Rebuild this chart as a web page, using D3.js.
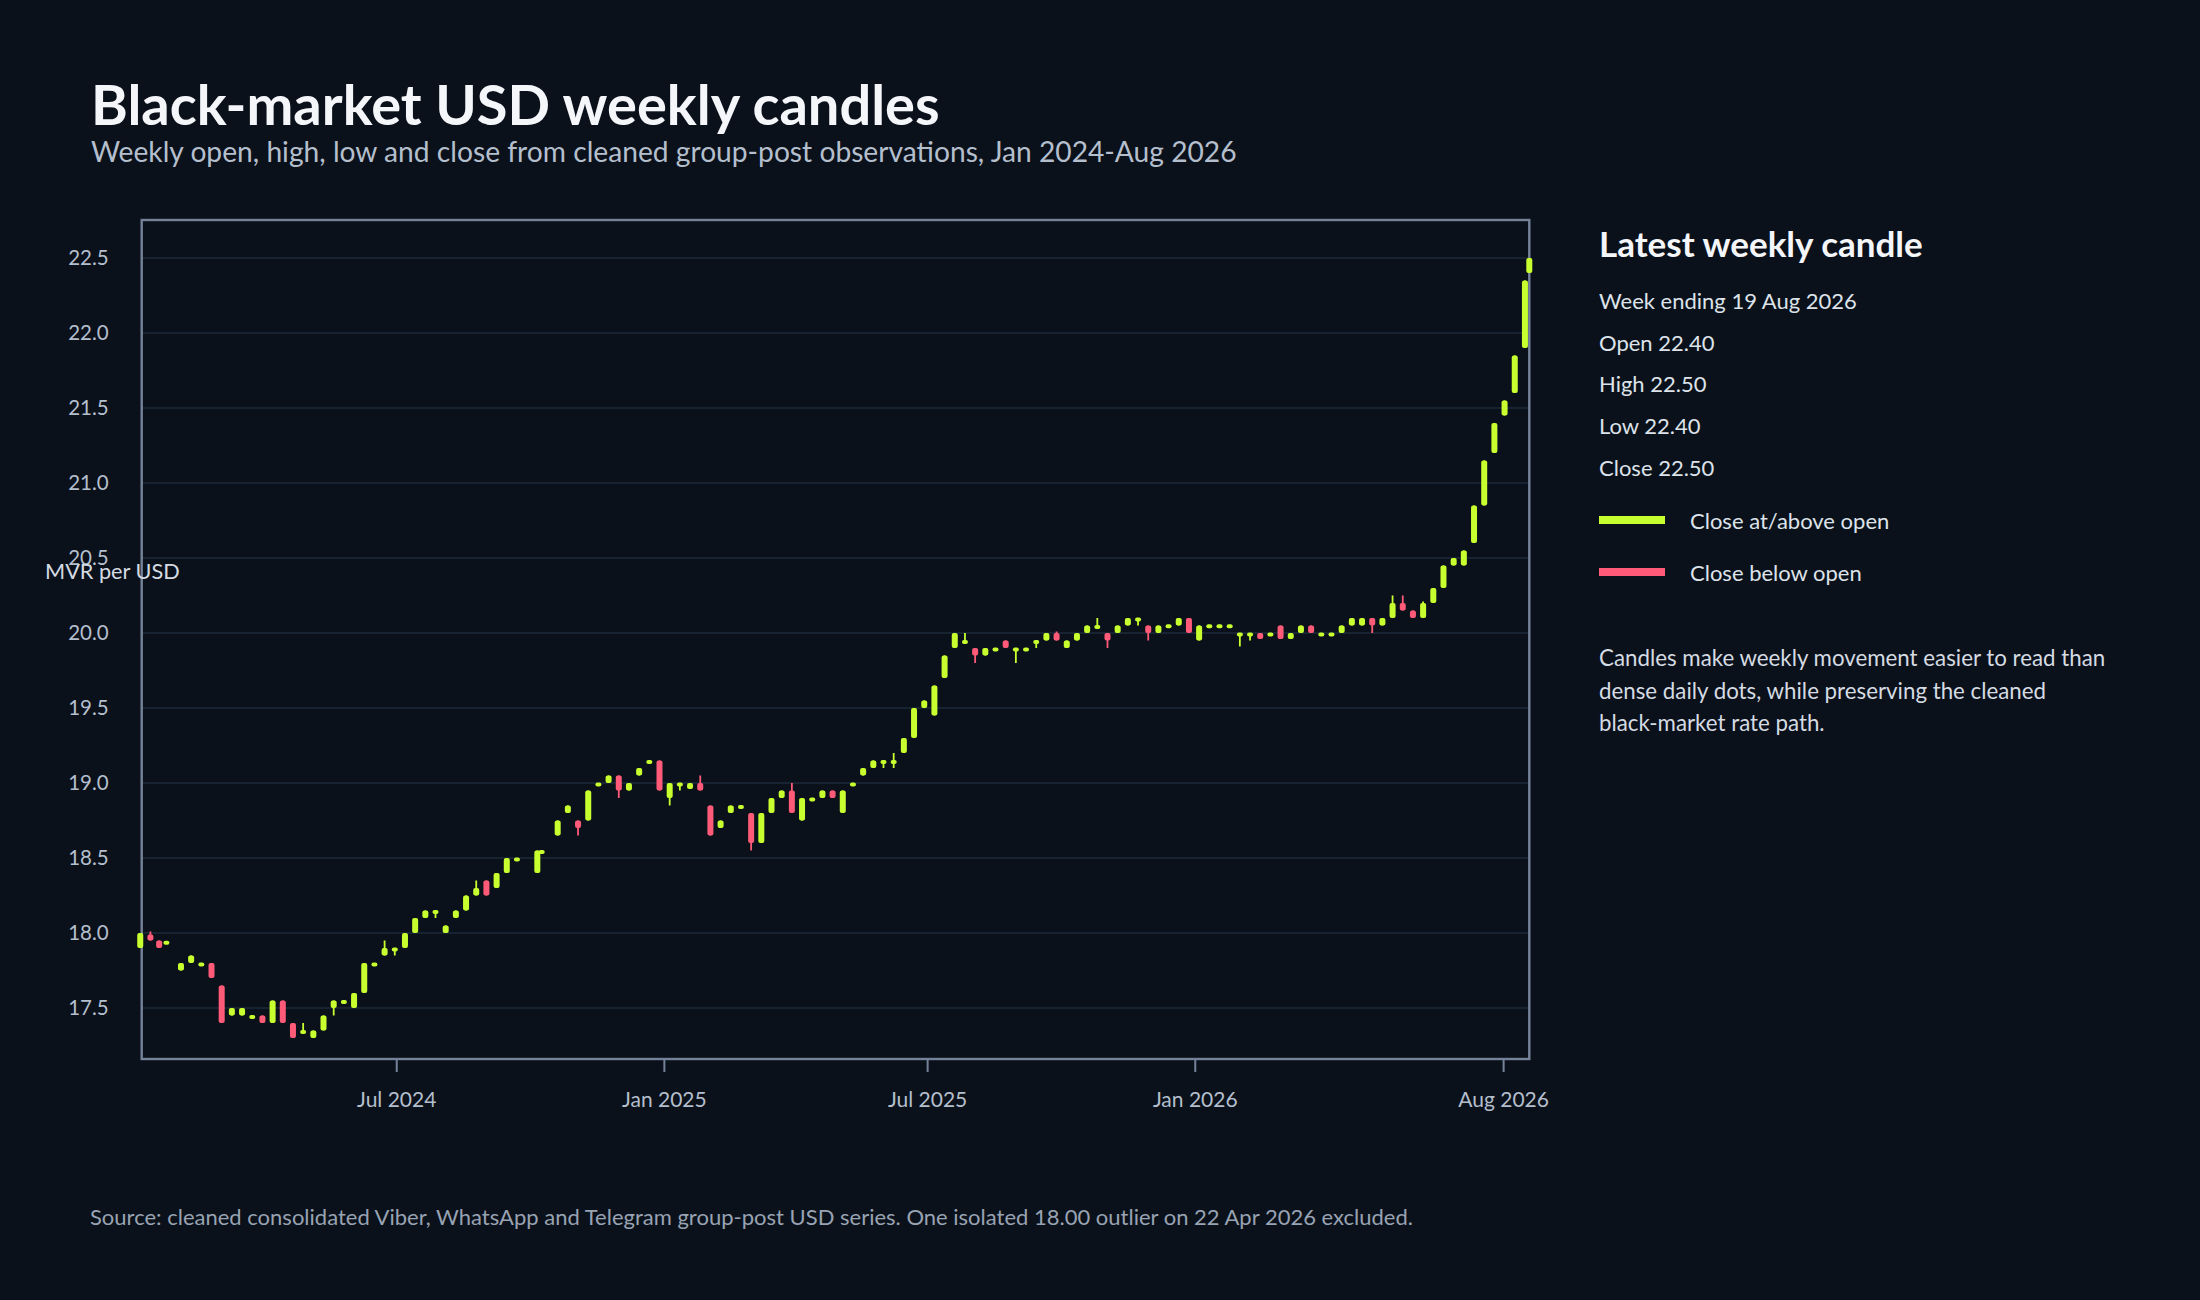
<!DOCTYPE html>
<html>
<head>
<meta charset="utf-8">
<script src="https://cdn.jsdelivr.net/npm/d3@7"></script>
<style>
  body { margin: 0; background: #0b111a; }
  svg text { font-family: Lato, "Noto Sans", sans-serif; }
</style>
</head>
<body>
<svg id="vis"></svg>
<script>
// weekly candles, week ending dates (last partial week ends on the last observation)
const weekEnding = [
  "2024-01-07","2024-01-14","2024-01-20","2024-01-25","2024-02-04","2024-02-11","2024-02-18","2024-02-25","2024-03-03","2024-03-10",
  "2024-03-17","2024-03-24","2024-03-31","2024-04-07","2024-04-14","2024-04-21","2024-04-28","2024-05-05","2024-05-12","2024-05-19",
  "2024-05-26","2024-06-02","2024-06-09","2024-06-16","2024-06-23","2024-06-30","2024-07-07","2024-07-14","2024-07-21","2024-07-28",
  "2024-08-04","2024-08-11","2024-08-18","2024-08-25","2024-09-01","2024-09-08","2024-09-15","2024-09-22","2024-10-06","2024-10-09",
  "2024-10-20","2024-10-27","2024-11-03","2024-11-10","2024-11-17","2024-11-24","2024-12-01","2024-12-08","2024-12-15","2024-12-22",
  "2024-12-29","2025-01-05","2025-01-12","2025-01-19","2025-01-26","2025-02-02","2025-02-09","2025-02-16","2025-02-23","2025-03-02",
  "2025-03-09","2025-03-16","2025-03-23","2025-03-30","2025-04-06","2025-04-13","2025-04-20","2025-04-27","2025-05-04","2025-05-11",
  "2025-05-18","2025-05-25","2025-06-01","2025-06-08","2025-06-15","2025-06-22","2025-06-29","2025-07-06","2025-07-13","2025-07-20",
  "2025-07-27","2025-08-03","2025-08-10","2025-08-17","2025-08-24","2025-08-31","2025-09-07","2025-09-14","2025-09-21","2025-09-28",
  "2025-10-05","2025-10-12","2025-10-19","2025-10-26","2025-11-02","2025-11-09","2025-11-16","2025-11-23","2025-11-30","2025-12-07",
  "2025-12-14","2025-12-21","2025-12-28","2026-01-04","2026-01-11","2026-01-18","2026-01-25","2026-02-01","2026-02-08","2026-02-15",
  "2026-02-22","2026-03-01","2026-03-08","2026-03-15","2026-03-22","2026-03-29","2026-04-05","2026-04-12","2026-04-19","2026-04-26",
  "2026-05-03","2026-05-10","2026-05-17","2026-05-24","2026-05-31","2026-06-07","2026-06-14","2026-06-21","2026-06-28","2026-07-05",
  "2026-07-12","2026-07-19","2026-07-26","2026-08-02","2026-08-09","2026-08-16","2026-08-19"
];

const openVals = [
  17.90,17.99,17.95,17.93,17.75,17.80,17.78,17.80,17.65,17.45,
  17.45,17.43,17.45,17.40,17.55,17.40,17.33,17.30,17.35,17.50,
  17.53,17.50,17.60,17.78,17.85,17.88,17.90,18.00,18.10,18.13,
  18.00,18.10,18.15,18.25,18.35,18.30,18.40,18.48,18.40,18.53,
  18.65,18.80,18.75,18.75,18.98,19.00,19.05,18.95,19.05,19.13,
  19.15,18.90,18.98,18.96,19.00,18.85,18.70,18.80,18.83,18.80,
  18.60,18.80,18.90,18.95,18.75,18.88,18.90,18.95,18.80,18.98,
  19.05,19.10,19.13,19.13,19.20,19.30,19.50,19.45,19.70,19.90,
  19.93,19.90,19.85,19.88,19.95,19.88,19.88,19.93,19.95,20.00,
  19.90,19.95,20.00,20.03,20.00,20.00,20.05,20.08,20.05,20.00,
  20.04,20.05,20.10,19.95,20.04,20.04,20.04,19.98,19.98,20.00,
  19.98,20.05,19.96,20.00,20.05,19.98,19.98,20.00,20.05,20.05,
  20.10,20.05,20.10,20.20,20.15,20.10,20.20,20.30,20.45,20.45,
  20.60,20.85,21.20,21.45,21.60,21.90,22.40
];

const highVals = [
  18.00,18.01,17.95,17.94,17.80,17.85,17.80,17.80,17.65,17.50,
  17.50,17.45,17.45,17.55,17.55,17.40,17.40,17.35,17.45,17.55,
  17.55,17.60,17.80,17.80,17.95,17.90,18.00,18.10,18.15,18.15,
  18.05,18.15,18.25,18.35,18.35,18.40,18.50,18.50,18.55,18.55,
  18.75,18.85,18.75,18.95,19.00,19.05,19.05,19.00,19.10,19.15,
  19.15,19.00,19.00,19.00,19.05,18.85,18.75,18.85,18.85,18.80,
  18.80,18.90,18.95,19.00,18.90,18.90,18.95,18.95,18.95,19.00,
  19.10,19.15,19.15,19.20,19.30,19.50,19.55,19.65,19.85,20.00,
  20.00,19.90,19.90,19.90,19.95,19.90,19.90,19.95,20.00,20.01,
  19.95,20.00,20.05,20.10,20.00,20.05,20.10,20.10,20.05,20.05,
  20.05,20.10,20.10,20.05,20.05,20.05,20.05,20.00,20.00,20.00,
  20.00,20.05,20.00,20.05,20.05,20.00,20.00,20.05,20.10,20.10,
  20.10,20.10,20.25,20.25,20.15,20.21,20.30,20.45,20.50,20.55,
  20.85,21.15,21.40,21.55,21.85,22.35,22.50
];

const lowVals = [
  17.90,17.95,17.90,17.93,17.75,17.80,17.78,17.70,17.40,17.45,
  17.45,17.43,17.40,17.40,17.40,17.30,17.33,17.30,17.35,17.45,
  17.53,17.50,17.60,17.78,17.85,17.85,17.90,18.00,18.10,18.10,
  18.00,18.10,18.15,18.25,18.25,18.30,18.40,18.48,18.40,18.53,
  18.65,18.80,18.65,18.75,18.98,19.00,18.90,18.95,19.05,19.13,
  18.95,18.85,18.95,18.96,18.95,18.65,18.70,18.80,18.83,18.55,
  18.60,18.80,18.90,18.80,18.75,18.88,18.90,18.90,18.80,18.98,
  19.05,19.10,19.10,19.10,19.20,19.30,19.50,19.45,19.70,19.90,
  19.93,19.80,19.85,19.88,19.90,19.80,19.88,19.90,19.95,19.95,
  19.90,19.95,20.00,20.03,19.90,20.00,20.05,20.05,19.95,20.00,
  20.04,20.05,20.00,19.95,20.04,20.04,20.04,19.91,19.95,19.96,
  19.98,19.96,19.96,20.00,20.00,19.98,19.98,20.00,20.05,20.05,
  20.00,20.05,20.10,20.15,20.10,20.10,20.20,20.30,20.45,20.45,
  20.60,20.85,21.20,21.45,21.60,21.90,22.40
];

const closeVals = [
  18.00,17.95,17.90,17.94,17.80,17.85,17.80,17.70,17.40,17.50,
  17.50,17.45,17.40,17.55,17.40,17.30,17.35,17.35,17.45,17.55,
  17.55,17.60,17.80,17.80,17.90,17.90,18.00,18.10,18.15,18.15,
  18.05,18.15,18.25,18.30,18.25,18.40,18.50,18.50,18.55,18.55,
  18.75,18.85,18.70,18.95,19.00,19.05,18.95,19.00,19.10,19.15,
  18.95,19.00,19.00,19.00,18.95,18.65,18.75,18.85,18.85,18.60,
  18.80,18.90,18.95,18.80,18.90,18.90,18.95,18.90,18.95,19.00,
  19.10,19.15,19.15,19.15,19.30,19.50,19.55,19.65,19.85,20.00,
  19.95,19.85,19.90,19.90,19.90,19.90,19.90,19.95,20.00,19.95,
  19.95,20.00,20.05,20.05,19.95,20.05,20.10,20.10,20.00,20.05,
  20.05,20.10,20.00,20.05,20.05,20.05,20.05,20.00,20.00,19.96,
  20.00,19.96,20.00,20.05,20.00,20.00,20.00,20.05,20.10,20.10,
  20.05,20.10,20.20,20.15,20.10,20.20,20.30,20.45,20.50,20.55,
  20.85,21.15,21.40,21.55,21.85,22.35,22.50
];

const yTickValues = [17.5, 18.0, 18.5, 19.0, 19.5, 20.0, 20.5, 21.0, 21.5, 22.0, 22.5];
const xTickDates = ["2024-07-01", "2025-01-01", "2025-07-01", "2026-01-01", "2026-08-01"];
const xDomainDates = ["2024-01-08", "2026-08-19"];
const yDomain = [17.16, 22.753];

const noteLines = [
  "Candles make weekly movement easier to read than",
  "dense daily dots, while preserving the cleaned",
  "black-market rate path."
];

const upColor = "#c8ff2e";
const downColor = "#ff5b79";

const parseDate = d3.timeParse("%Y-%m-%d");

drawCandles = (g, candles, x, y) => {
  const bodyW = 6;
  const c = g.selectAll(".candle")
    .data(candles)
    .join("g")
      .attr("class", "candle")
      .attr("transform", d => `translate(${x(d.date)},0)`);

  c.append("line")
    .attr("y1", d => y(d.high))
    .attr("y2", d => y(d.low))
    .attr("stroke", d => d.up ? upColor : downColor)
    .attr("stroke-width", 1.8);

  c.append("rect")
    .attr("x", -bodyW / 2)
    .attr("width", bodyW)
    .attr("y", d => {
      const top = y(Math.max(d.open, d.close)), bot = y(Math.min(d.open, d.close));
      const h = Math.max(4, bot - top);
      return (top + bot) / 2 - h / 2;
    })
    .attr("height", d => Math.max(4, y(Math.min(d.open, d.close)) - y(Math.max(d.open, d.close))))
    .attr("rx", 2)
    .attr("fill", d => d.up ? upColor : downColor);
}

function drawVisualization() {
  const width = 2200, height = 1300;
  const plot = {left: 141.7, right: 1529.3, top: 220, bottom: 1059};

  const candles = weekEnding.map((w, i) => ({
    date: parseDate(w),
    open: openVals[i], high: highVals[i], low: lowVals[i], close: closeVals[i],
    up: closeVals[i] >= openVals[i]
  }));

  const svg = d3.select("#vis")
    .attr("viewBox", [0, 0, width, height])
    .attr("width", width)
    .attr("height", height);

  svg.append("rect").attr("width", width).attr("height", height).attr("fill", "#0b111a");

  const x = d3.scaleTime()
    .domain(xDomainDates.map(parseDate))
    .range([plot.left, plot.right]);

  const y = d3.scaleLinear()
    .domain(yDomain)
    .range([plot.bottom, plot.top]);

  // titles
  svg.append("text")
    .attr("x", 91).attr("y", 125)
    .attr("fill", "#f4f6fa")
    .style("font-size", "56px").style("font-weight", "bold")
    .text("Black-market USD weekly candles");

  svg.append("text")
    .attr("x", 91).attr("y", 162)
    .attr("fill", "#b4bfcd")
    .style("font-size", "28.2px")
    .text("Weekly open, high, low and close from cleaned group-post observations, Jan 2024-Aug 2026");

  // gridlines
  svg.append("g")
    .selectAll("line")
    .data(yTickValues)
    .join("line")
      .attr("x1", plot.left).attr("x2", plot.right)
      .attr("y1", d => y(d)).attr("y2", d => y(d))
      .attr("stroke", "#1e2a3b")
      .attr("stroke-width", 1.6);

  // y axis labels
  const yAxis = svg.append("g")
    .attr("transform", `translate(${plot.left},0)`)
    .call(d3.axisLeft(y).tickValues(yTickValues).tickFormat(d3.format(".1f")).tickSize(0).tickPadding(33));
  yAxis.select(".domain").remove();
  yAxis.selectAll("text")
    .attr("fill", "#b4bfcd")
    .style("font-size", "20.5px")
    .style("font-family", "Lato, 'Noto Sans', sans-serif");

  // x axis
  const xAxis = svg.append("g")
    .attr("transform", `translate(0,${plot.bottom})`)
    .call(d3.axisBottom(x).tickValues(xTickDates.map(parseDate)).tickFormat(d3.timeFormat("%b %Y")).tickSize(13).tickPadding(20));
  xAxis.select(".domain").remove();
  xAxis.selectAll(".tick line").attr("stroke", "#75839a").attr("stroke-width", 2);
  xAxis.selectAll("text")
    .attr("fill", "#b4bfcd")
    .style("font-size", "21px")
    .style("font-family", "Lato, 'Noto Sans', sans-serif");

  // frame
  svg.append("rect")
    .attr("x", plot.left).attr("y", plot.top)
    .attr("width", plot.right - plot.left).attr("height", plot.bottom - plot.top)
    .attr("fill", "none")
    .attr("stroke", "#75839a")
    .attr("stroke-width", 2.4);

  svg.append("text")
    .attr("x", 45).attr("y", 579)
    .attr("fill", "#d5dbe3")
    .style("font-size", "21.7px")
    .text("MVR per USD");

  drawCandles(svg.append("g"), candles, x, y);

  // side panel
  const last = candles[candles.length - 1];
  const f2 = d3.format(".2f");
  const panel = svg.append("g").attr("transform", "translate(1599,0)");

  panel.append("text")
    .attr("y", 257)
    .attr("fill", "#f4f6fa")
    .style("font-size", "35px").style("font-weight", "bold")
    .text("Latest weekly candle");

  const infoLines = [
    "Week ending " + d3.timeFormat("%-d %b %Y")(last.date),
    "Open " + f2(last.open),
    "High " + f2(last.high),
    "Low " + f2(last.low),
    "Close " + f2(last.close)
  ];
  panel.selectAll(".info")
    .data(infoLines)
    .join("text")
      .attr("class", "info")
      .attr("y", (d, i) => 309 + i * 41.7)
      .attr("fill", "#dde3ea")
      .style("font-size", "22px")
      .text(d => d);

  const legend = [
    {label: "Close at/above open", color: upColor, y: 516},
    {label: "Close below open", color: downColor, y: 568}
  ];
  const lg = panel.selectAll(".legend")
    .data(legend)
    .join("g")
      .attr("class", "legend")
      .attr("transform", d => `translate(0,${d.y})`);
  lg.append("rect")
    .attr("width", 66).attr("height", 8)
    .attr("fill", d => d.color);
  lg.append("text")
    .attr("x", 91).attr("y", 13)
    .attr("fill", "#dde3ea")
    .style("font-size", "22px")
    .text(d => d.label);

  panel.selectAll(".note")
    .data(noteLines)
    .join("text")
      .attr("class", "note")
      .attr("y", (d, i) => 666 + i * 32.5)
      .attr("fill", "#d5dbe3")
      .style("font-size", "22.3px")
      .text(d => d);

  svg.append("text")
    .attr("x", 90).attr("y", 1225)
    .attr("fill", "#98a3b3")
    .style("font-size", "22px")
    .text("Source: cleaned consolidated Viber, WhatsApp and Telegram group-post USD series. One isolated 18.00 outlier on 22 Apr 2026 excluded.");
}
drawVisualization()
</script>
</body>
</html>
